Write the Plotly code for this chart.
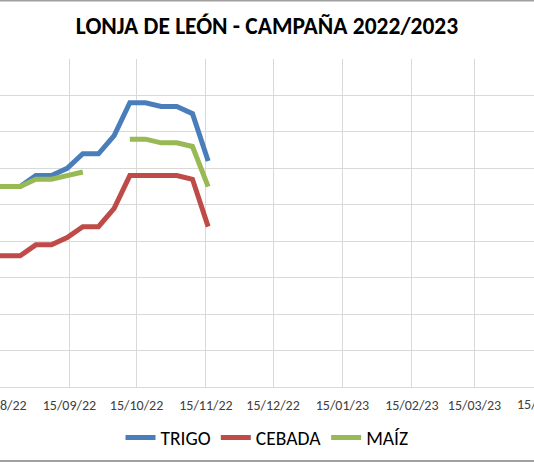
import plotly.graph_objects as go

# Weekly quotes (Wednesday sessions), €/t
FECHAS = ["2022-08-10", "2022-08-17", "2022-08-24", "2022-08-31", "2022-09-07",
          "2022-09-14", "2022-09-21", "2022-09-28", "2022-10-05", "2022-10-12",
          "2022-10-19", "2022-10-26", "2022-11-02", "2022-11-09", "2022-11-16"]
TRIGO = [290, 290, 290, 296, 296, 300, 308, 308, 318, 336, 336, 334, 334, 330, 304]
CEBADA = [252, 252, 252, 258, 258, 262, 268, 268, 278, 296, 296, 296, 296, 294, 268]
MAIZ = [290, 290, 290, 294, 294, 296, 298, None, None, 316, 316, 314, 314, 312, 290]

SERIES = [("TRIGO", TRIGO, "#4A7EBB"),
          ("CEBADA", CEBADA, "#BE4B48"),
          ("MAÍZ", MAIZ, "#98B954")]

FONT = "Carlito, Lato, sans-serif"
GRID = "#D9D9D9"

fig = go.Figure()
for name, values, color in SERIES:
    fig.add_trace(go.Scatter(
        x=FECHAS, y=values, name=name, mode="lines",
        line=dict(color=color, width=5),
        connectgaps=False,
    ))

fig.update_layout(
    width=534, height=462,
    margin=dict(l=0, r=0, t=59, b=75),
    paper_bgcolor="white", plot_bgcolor="white",
    font=dict(family=FONT, color="#404040"),
    title=dict(text="<b>LONJA DE LEÓN - CAMPAÑA 2022/2023</b>",
               x=0.5, xanchor="center", y=1 - 26 / 462, yanchor="middle",
               font=dict(family=FONT, size=23.5, color="black")),
    showlegend=True,
    legend=dict(orientation="h", x=0.5, xanchor="center", y=-0.155, yanchor="middle",
                font=dict(family=FONT, size=19.5, color="black"),
                itemwidth=30, bgcolor="rgba(0,0,0,0)"),
)

fig.update_xaxes(
    type="date", range=["2022-08-15", "2023-04-10 14:00"],
    tick0="2022-08-15", dtick="M1", tickformat="%d/%m/%y",
    showgrid=True, gridcolor=GRID, gridwidth=1,
    showline=True, linecolor=GRID, linewidth=1,
    ticks="", ticklabelstandoff=5, ticklabeloverflow="allow",
    tickfont=dict(family=FONT, size=14, color="#404040"),
    zeroline=False, automargin=False,
)
fig.update_yaxes(
    range=[180, 360], dtick=20, showticklabels=False,
    showgrid=True, gridcolor=GRID, gridwidth=1,
    zeroline=False, showline=False, automargin=False,
)

# next month label, cut by the picture edge
fig.add_annotation(text="15/04/23", xref="paper", yref="paper",
                   x=543.6 / 534, y=-17 / 328, xanchor="center", yanchor="middle",
                   showarrow=False, font=dict(family=FONT, size=14, color="#404040"))

# chart border lines visible at top and bottom
fig.add_shape(type="line", xref="paper", yref="paper", x0=-0.01, x1=1.01,
              y0=1 + 58.5 / 328, y1=1 + 58.5 / 328, line=dict(color="#A0A0A0", width=2))
fig.add_shape(type="line", xref="paper", yref="paper", x0=-0.01, x1=1.01,
              y0=-74 / 328, y1=-74 / 328, line=dict(color="#A0A0A0", width=2))

# page body has a default margin; remove it so the figure sits at the corner
fig.write_html("out.html", config={"displayModeBar": False},
               post_script="document.body.style.margin='0';")
